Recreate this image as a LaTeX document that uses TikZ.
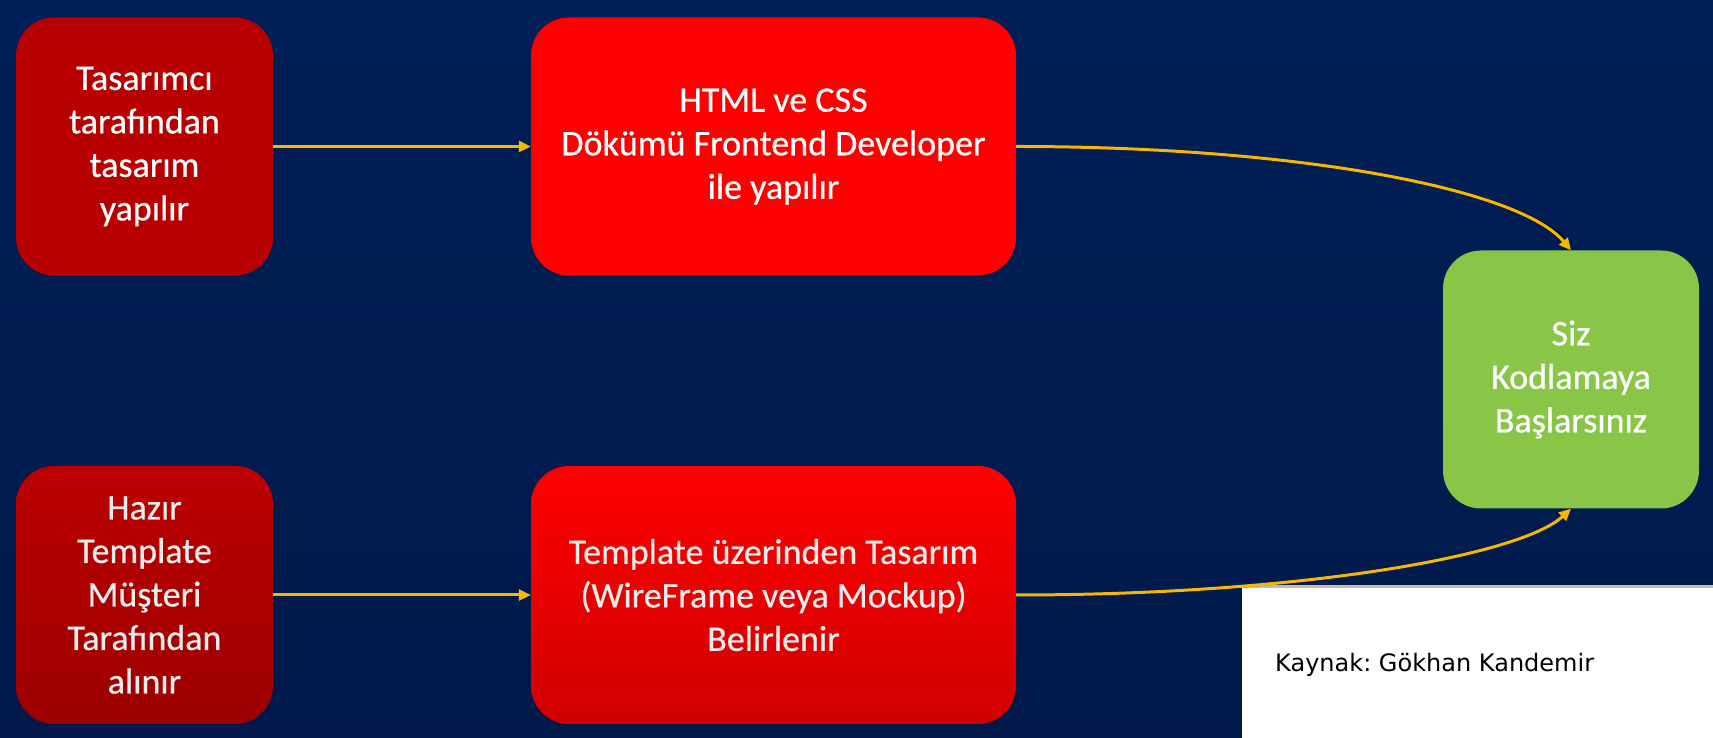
\documentclass[tikz,border=0pt]{standalone}
\usepackage{fontspec}
\setmainfont{Carlito}
\newfontfamily\boxfont{Carlito}[FakeBold=0.6]
\newfontfamily\dejavu{DejaVu Sans}
\usetikzlibrary{arrows.meta,calc}
\definecolor{bgtop}{RGB}{0,31,87}
\definecolor{bgbot}{RGB}{0,25,74}
\definecolor{boxa}{RGB}{184,0,0}
\definecolor{boxb}{RGB}{255,0,0}
\definecolor{boxctop}{RGB}{188,0,0}
\definecolor{boxcbot}{RGB}{156,0,0}
\definecolor{boxdtop}{RGB}{255,0,0}
\definecolor{boxdbot}{RGB}{208,0,0}
\definecolor{boxg}{RGB}{137,198,72}
\definecolor{arrowc}{RGB}{245,184,0}
\definecolor{textc}{RGB}{236,236,236}
\definecolor{stripc}{RGB}{196,188,176}
\begin{document}
\frenchspacing
\begin{tikzpicture}[x=1pt,y=1pt,
  box/.style={rectangle, rounded corners=38pt, minimum width=#1, minimum height=258pt,
    align=center, inner sep=0pt, font=\boxfont\fontsize{36}{43.5}\selectfont, text=white},
  flow/.style={draw=arrowc, line width=3pt, -{Triangle[length=12pt,width=11pt]}},
  shadowline/.style={draw=black, opacity=0.45, line width=3pt}]
\useasboundingbox (0,0) rectangle (1713,738);
\shade[top color=bgtop, bottom color=bgbot] (0,0) rectangle (1713,738);

\node[box=257pt, fill=boxa] (A) at (144.5,591.5) {Tasarımcı\\tarafından\\tasarım\\yapılır};
\node[box=485pt, fill=boxb] (B) at (773.5,591.5) {HTML ve CSS\\Dökümü Frontend Developer\\ile yapılır};
\node[box=257pt, top color=boxctop, bottom color=boxcbot, text=textc] (C) at (144.5,143) {Hazır\\Template\\Müşteri\\Tarafından\\alınır};
\node[box=485pt, top color=boxdtop, bottom color=boxdbot, text=textc] (D) at (773.5,143) {Template üzerinden Tasarım\\(WireFrame veya Mockup)\\Belirlenir};
\node[box=256pt, fill=boxg] (G) at (1571,358.5) {Siz\\Kodlamaya\\Başlarsınız};

% white source panel
\fill[white] (1242,0) rectangle (1713,151);
\fill[stripc] (1242,150) rectangle (1713,152.5);
\node[anchor=base west, inner sep=0pt, font=\dejavu\fontsize{24}{28}\selectfont, text=black] (K) at (1275,66) {Kaynak: Gökhan Kandemir};

% straight connectors
\draw[flow] (A) -- (B);
\draw[flow] (C) -- (D);

% curved connectors
\coordinate (t1) at ($(B.east)+(284,0)$);
\coordinate (t2) at ($(G.north)+(-51,61)$);
\coordinate (b1) at ($(D.east)+(284,0)$);
\coordinate (b2) at ($(G.south)+(-51,-47)$);
\draw[shadowline, yshift=-1.5pt] (B.east) .. controls (t1) and (t2) .. ($(G.north)+(-3,8)$);
\draw[flow] (B.east) .. controls (t1) and (t2) .. (G.north);
\draw[shadowline, yshift=-1.5pt] (D.east) .. controls (b1) and (b2) .. ($(G.south)+(-4,-5)$);
\draw[flow] (D.east) .. controls (b1) and (b2) .. (G.south);
\end{tikzpicture}
\end{document}
